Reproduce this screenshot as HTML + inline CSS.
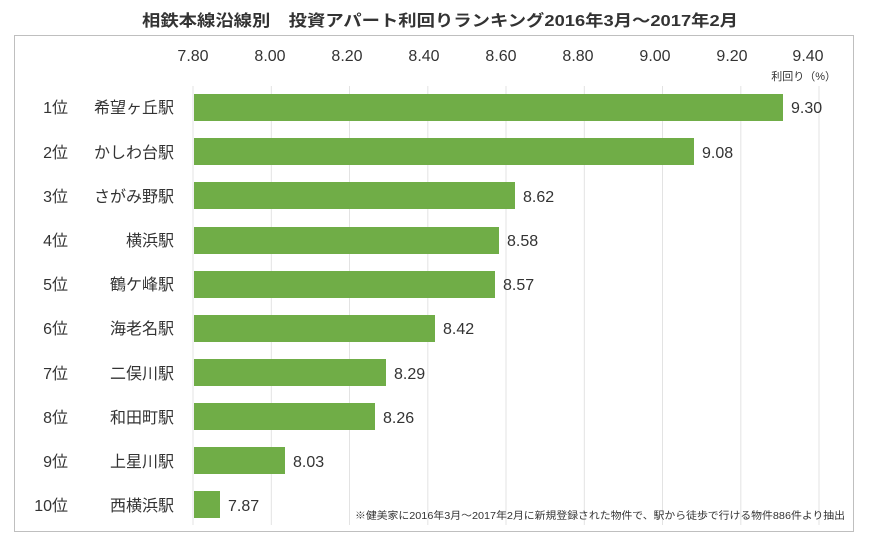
<!DOCTYPE html>
<html><head><meta charset="utf-8"><style>
body{margin:0;background:#fff;font-family:"Liberation Sans","Noto Sans CJK JP",sans-serif;}
</style></head><body>
<svg width="880" height="549" xmlns="http://www.w3.org/2000/svg" font-family="Liberation Sans, Noto Sans CJK JP, sans-serif">
<rect width="880" height="549" fill="#fff"/>
<text x="440" y="26" text-anchor="middle" font-size="16" font-weight="bold" fill="#333" textLength="596" lengthAdjust="spacingAndGlyphs">相鉄本線沿線別　投資アパート利回りランキング2016年3月～2017年2月</text>
<rect x="14.5" y="35.5" width="839" height="496" fill="none" stroke="#bfbfbf"/>
<g stroke="#e3e3e3" stroke-width="1">
<line x1="193" y1="86" x2="193" y2="525"/><line x1="271.3" y1="86" x2="271.3" y2="525"/>
<line x1="349.5" y1="86" x2="349.5" y2="525"/><line x1="427.8" y1="86" x2="427.8" y2="525"/>
<line x1="506" y1="86" x2="506" y2="525"/><line x1="584.3" y1="86" x2="584.3" y2="525"/>
<line x1="662.5" y1="86" x2="662.5" y2="525"/><line x1="740.8" y1="86" x2="740.8" y2="525"/>
<line x1="819" y1="86" x2="819" y2="525"/>
</g>
<g font-size="16" fill="#333" text-anchor="middle">
<text x="193" y="61">7.80</text><text x="270" y="61">8.00</text><text x="347" y="61">8.20</text>
<text x="424" y="61">8.40</text><text x="501" y="61">8.60</text><text x="578" y="61">8.80</text>
<text x="655" y="61">9.00</text><text x="732" y="61">9.20</text><text x="808" y="61">9.40</text>
</g>
<text x="836" y="80" font-size="11" fill="#333" text-anchor="end">利回り（%）</text>
<g fill="#70ad47">
<rect x="194" y="94" width="589" height="27"/>
<rect x="194" y="138" width="500" height="27"/>
<rect x="194" y="182" width="321" height="27"/>
<rect x="194" y="227" width="305" height="27"/>
<rect x="194" y="271" width="301" height="27"/>
<rect x="194" y="315" width="241" height="27"/>
<rect x="194" y="359" width="192" height="27"/>
<rect x="194" y="403" width="181" height="27"/>
<rect x="194" y="447" width="91" height="27"/>
<rect x="194" y="491" width="26" height="27"/>
</g>
<g font-size="16" fill="#333">
<text x="791" y="113">9.30</text><text x="702" y="158">9.08</text><text x="523" y="202">8.62</text>
<text x="507" y="246">8.58</text><text x="503" y="290">8.57</text><text x="443" y="334">8.42</text>
<text x="394" y="379">8.29</text><text x="383" y="423">8.26</text><text x="293" y="467">8.03</text>
<text x="228" y="511">7.87</text>
</g>
<g font-size="16" fill="#333" text-anchor="end">
<text x="68" y="113">1位</text><text x="68" y="158">2位</text><text x="68" y="202">3位</text>
<text x="68" y="246">4位</text><text x="68" y="290">5位</text><text x="68" y="334">6位</text>
<text x="68" y="379">7位</text><text x="68" y="423">8位</text><text x="68" y="467">9位</text>
<text x="68" y="511">10位</text>
<text x="174" y="113">希望ヶ丘駅</text><text x="174" y="158">かしわ台駅</text><text x="174" y="202">さがみ野駅</text>
<text x="174" y="246">横浜駅</text><text x="174" y="290">鶴ケ峰駅</text><text x="174" y="334">海老名駅</text>
<text x="174" y="379">二俣川駅</text><text x="174" y="423">和田町駅</text><text x="174" y="467">上星川駅</text>
<text x="174" y="511">西横浜駅</text>
</g>
<text x="845" y="519" font-size="10" fill="#333" text-anchor="end" textLength="490" lengthAdjust="spacingAndGlyphs">※健美家に2016年3月～2017年2月に新規登録された物件で、駅から徒歩で行ける物件886件より抽出</text>
</svg>
</body></html>
